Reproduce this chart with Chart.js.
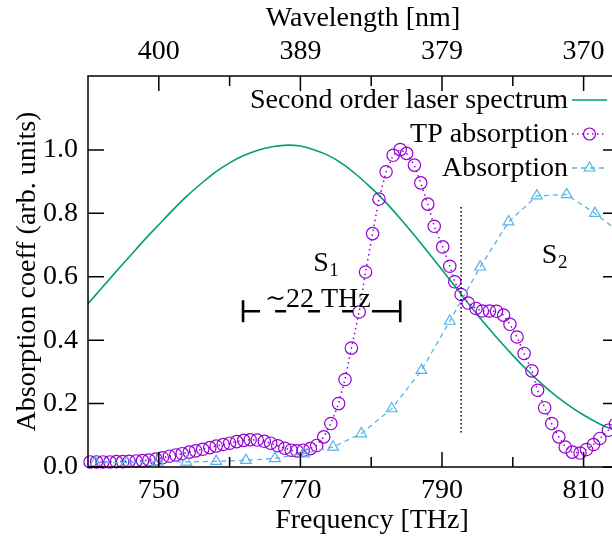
<!DOCTYPE html>
<html><head><meta charset="utf-8">
<script src="https://cdn.jsdelivr.net/npm/chart.js@4/dist/chart.umd.min.js"></script>
<style>
html,body{margin:0;padding:0;overflow:hidden;background:#fff;width:612px;height:537px}
#wrap{width:640px;height:537px;position:relative}
</style></head><body>
<div id="wrap"><canvas id="c" width="640" height="537"></canvas></div>
<script>
// ---------- data ----------
const seriesNames = ['Second order laser spectrum', 'TP absorption', 'Absorption'];
const axisTitles = {bottom: 'Frequency [THz]', top: 'Wavelength [nm]', left: 'Absorption coeff (arb. units)'};

const laserFreq = [740, 742, 744, 746, 748, 750, 752, 754, 756, 758, 760, 762, 764, 766, 768.3,
  770, 772, 774, 776, 778, 780, 782, 784, 786, 788, 790, 792, 794, 796, 798, 800, 802, 804, 806,
  808, 810, 812, 814, 816];
const laserValues = [0.515, 0.566, 0.617, 0.667, 0.717, 0.764, 0.811, 0.855, 0.894, 0.930, 0.959,
  0.982, 0.999, 1.010, 1.015, 1.012, 1.000, 0.982, 0.955, 0.920, 0.880, 0.836, 0.786, 0.733, 0.678,
  0.622, 0.565, 0.508, 0.453, 0.401, 0.352, 0.306, 0.264, 0.226, 0.193, 0.164, 0.139, 0.119, 0.101];

const tpFreq = [740.3, 741.2, 742.1, 743.1, 744.0, 744.9, 745.8, 746.8, 747.7, 748.6, 749.6, 750.5,
  751.5, 752.4, 753.3, 754.3, 755.2, 756.2, 757.2, 758.1, 759.1, 760.0, 761.0, 762.0, 762.9, 763.9,
  764.9, 765.8, 766.8, 767.8, 768.7, 769.5, 770.4, 771.4, 772.3, 773.3, 774.3, 775.4, 776.3, 777.2,
  778.3, 779.2, 780.2, 781.1, 782.1, 783.1, 784.1, 785.0, 786.1, 787.0, 788.0, 788.9, 790.1, 791.1,
  791.8, 792.7, 793.7, 794.8, 795.7, 796.7, 797.7, 798.7, 799.6, 800.6, 801.6, 802.7, 803.5, 804.5,
  805.5, 806.5, 807.4, 808.4, 809.5, 810.4, 811.4, 812.3, 813.5, 814.5];
const tpValues = [0.016, 0.016, 0.016, 0.016, 0.017, 0.017, 0.018, 0.019, 0.020, 0.022, 0.025, 0.029,
  0.034, 0.038, 0.042, 0.047, 0.051, 0.056, 0.061, 0.066, 0.071, 0.075, 0.080, 0.084, 0.086, 0.085,
  0.081, 0.075, 0.067, 0.059, 0.053, 0.051, 0.053, 0.058, 0.068, 0.095, 0.137, 0.200, 0.276, 0.375,
  0.489, 0.615, 0.736, 0.845, 0.931, 0.983, 1.001, 0.989, 0.952, 0.896, 0.829, 0.759, 0.694, 0.633,
  0.584, 0.544, 0.517, 0.500, 0.492, 0.492, 0.491, 0.479, 0.450, 0.410, 0.358, 0.303, 0.242, 0.187,
  0.137, 0.095, 0.063, 0.047, 0.044, 0.055, 0.071, 0.090, 0.116, 0.135];

const absFreq = [741.0, 745.5, 749.8, 753.9, 758.1, 762.3, 766.4, 770.5, 774.6, 778.6, 782.9, 787.1,
  791.1, 795.4, 799.4, 803.4, 807.6, 811.6, 815.7];
const absValues = [0.014, 0.014, 0.016, 0.016, 0.018, 0.021, 0.027, 0.042, 0.063, 0.105, 0.184, 0.305,
  0.460, 0.631, 0.773, 0.855, 0.859, 0.800, 0.730];

const freqTicks = [750, 760, 770, 780, 790, 800, 810];
const freqTickLabels = ['750', '', '770', '', '790', '', '810'];
const wavelengthTickLabels = ['400', '', '389', '', '379', '', '370'];
const yTicks = [0, 0.2, 0.4, 0.6, 0.8, 1.0];
const yTickLabels = ['0.0', '0.2', '0.4', '0.6', '0.8', '1.0'];

// annotation anchors (data units)
const bandwidthBar = {from: 761.9, to: 784.1, y: 0.491, label: '22 THz'};
const centerMarker = {x: 792.7, yFrom: 0.105, yTo: 0.82};
const regionLabels = [{x: 771.8, y: 0.617, sub: '1'}, {x: 804.1, y: 0.643, sub: '2'}];

// ---------- styling ----------
const FONT = '"Liberation Serif", "Times New Roman", serif';
const FS = 28;
const GREEN = '#009E73', PURPLE = '#9400D3', BLUE = '#56B4E9';

function pts(xs, ys) { return xs.map((x, i) => ({x, y: ys[i]})); }

function drawMarker(ctx, style, x, y, r, color) {
  ctx.save();
  ctx.setLineDash([]);
  ctx.strokeStyle = color; ctx.lineWidth = 1.2;
  ctx.beginPath();
  if (style === 'circle') {
    ctx.arc(x, y, r, 0, Math.PI * 2);
  } else {
    let a = 0;
    ctx.moveTo(x + Math.sin(a) * r, y - Math.cos(a) * r);
    a += 2 * Math.PI / 3; ctx.lineTo(x + Math.sin(a) * r, y - Math.cos(a) * r);
    a += 2 * Math.PI / 3; ctx.lineTo(x + Math.sin(a) * r, y - Math.cos(a) * r);
    ctx.closePath();
  }
  ctx.stroke();
  ctx.restore();
}

const decorPlugin = {
  id: 'decor',
  afterDatasetsDraw(chart) {
    const {ctx, chartArea: a, scales: {x, y}} = chart;
    ctx.save();
    ctx.strokeStyle = '#000';
    ctx.lineWidth = 1.5;
    ctx.setLineDash([]);
    // tick marks, drawn inward
    ctx.beginPath();
    freqTicks.forEach((v, i) => {
      const px = x.getPixelForValue(v);
      const len = freqTickLabels[i] ? 15 : 10;
      ctx.moveTo(px, a.bottom); ctx.lineTo(px, a.bottom - len);
      ctx.moveTo(px, a.top); ctx.lineTo(px, a.top + len);
    });
    yTicks.forEach(v => {
      const py = y.getPixelForValue(v);
      ctx.moveTo(a.left, py); ctx.lineTo(a.left + 16, py);
      ctx.moveTo(a.right, py); ctx.lineTo(a.right - 16, py);
    });
    ctx.stroke();
    ctx.strokeRect(a.left, a.top, a.right - a.left, a.bottom - a.top);

    // vertical dotted marker
    ctx.beginPath();
    ctx.setLineDash([1.5, 2.5]);
    ctx.lineWidth = 1.5;
    const mx = x.getPixelForValue(centerMarker.x);
    ctx.moveTo(mx, y.getPixelForValue(centerMarker.yTo));
    ctx.lineTo(mx, y.getPixelForValue(centerMarker.yFrom));
    ctx.stroke();
    ctx.setLineDash([]);

    // bandwidth bar
    const x0 = x.getPixelForValue(bandwidthBar.from);
    const x1 = x.getPixelForValue(bandwidthBar.to);
    const by = y.getPixelForValue(bandwidthBar.y);
    ctx.lineWidth = 2.6;
    ctx.beginPath();
    ctx.moveTo(x0, by - 11); ctx.lineTo(x0, by + 11);
    ctx.moveTo(x1, by - 11); ctx.lineTo(x1, by + 11);
    const L = x1 - x0;
    [[0, 0.108], [0.204, 0.274], [0.414, 0.49], [0.63, 0.70], [0.82, 1]].forEach(([s, e]) => {
      ctx.moveTo(x0 + s * L, by); ctx.lineTo(x0 + e * L, by);
    });
    ctx.stroke();

    // texts
    ctx.fillStyle = '#000';
    ctx.textBaseline = 'alphabetic';
    ctx.textAlign = 'left';
    const tx = x0 + 22, ty = by - 4;
    ctx.font = '25px "DejaVu Serif", serif';
    ctx.fillText('\u223C', tx, ty - 1);
    const tw = ctx.measureText('\u223C').width;
    ctx.font = FS + 'px ' + FONT;
    ctx.fillText(bandwidthBar.label, tx + tw, ty);

    regionLabels.forEach(r => {
      const px = x.getPixelForValue(r.x), py = y.getPixelForValue(r.y);
      ctx.font = FS + 'px ' + FONT;
      ctx.fillText('S', px, py);
      const w = ctx.measureText('S').width;
      ctx.font = '19px ' + FONT;
      ctx.fillText(r.sub, px + w + 0.5, py + 5);
    });

    // axis titles (horizontal)
    ctx.font = FS + 'px ' + FONT;
    ctx.textAlign = 'center';
    ctx.textBaseline = 'middle';
    ctx.fillText(axisTitles.bottom, 372, 521);
    ctx.fillText(axisTitles.top, 363, 19);

    // legend (text right, sample to its right)
    const styles = [
      {color: GREEN, dash: [], marker: null},
      {color: PURPLE, dash: [1.5, 3.5], marker: 'circle'},
      {color: BLUE, dash: [5, 4], marker: 'triangle'}
    ];
    const rowsY = [100, 134, 168];
    const textRight = 568, sx0 = 572, sx1 = 607;
    ctx.textBaseline = 'alphabetic';
    seriesNames.forEach((name, i) => {
      const ly = rowsY[i];
      ctx.font = FS + 'px ' + FONT;
      ctx.textAlign = 'right';
      ctx.fillStyle = '#000';
      ctx.fillText(name, textRight, ly + 8);
      ctx.beginPath();
      ctx.strokeStyle = styles[i].color;
      ctx.lineWidth = 1.5;
      ctx.setLineDash(styles[i].dash);
      ctx.moveTo(sx0, ly); ctx.lineTo(sx1, ly);
      ctx.stroke();
      ctx.setLineDash([]);
      if (styles[i].marker) drawMarker(ctx, styles[i].marker, (sx0 + sx1) / 2, ly, 6, styles[i].color);
    });
    ctx.restore();
  }
};

Chart.defaults.font.family = FONT;
Chart.defaults.font.size = FS;
Chart.defaults.color = '#000';

const tickFont = {family: FONT, size: FS, lineHeight: 1};

new Chart(document.getElementById('c'), {
  type: 'line',
  data: {
    datasets: [
      {label: seriesNames[0], data: pts(laserFreq, laserValues), borderColor: GREEN, borderWidth: 1.6,
        pointRadius: 0, cubicInterpolationMode: 'monotone', order: 3, fill: false},
      {label: seriesNames[1], data: pts(tpFreq, tpValues), borderColor: PURPLE, borderWidth: 1.5,
        borderDash: [1.5, 3.5], pointStyle: 'circle', pointRadius: 6.2, pointBorderWidth: 1.2,
        pointBorderColor: PURPLE, pointBackgroundColor: 'rgba(0,0,0,0)', order: 2, fill: false,
        clip: {left: 10, right: 0, top: 0, bottom: 10}},
      {label: seriesNames[2], data: pts(absFreq, absValues), borderColor: BLUE, borderWidth: 1.3,
        borderDash: [5, 4], pointStyle: 'triangle', pointRadius: 6.2, pointBorderWidth: 1.2,
        pointBorderColor: BLUE, pointBackgroundColor: 'rgba(0,0,0,0)', order: 1, fill: false,
        clip: {left: 10, right: 0, top: 0, bottom: 10}}
    ]
  },
  options: {
    responsive: false,
    animation: false,
    devicePixelRatio: 1,
    layout: {padding: {left: 0, right: 21, top: 0, bottom: 0}},
    plugins: {legend: {display: false}, tooltip: {enabled: false}},
    scales: {
      x: {
        type: 'linear', position: 'bottom', min: 740, max: 815,
        afterBuildTicks: s => { s.ticks = freqTicks.map(v => ({value: v})); },
        afterFit: s => { s.height = 70; },
        grid: {display: false, drawTicks: false},
        border: {display: false},
        ticks: {autoSkip: false, maxRotation: 0, padding: 10, font: tickFont,
          callback: (v, i) => freqTickLabels[i]}
      },
      x2: {
        type: 'linear', position: 'top', min: 740, max: 815,
        afterBuildTicks: s => { s.ticks = freqTicks.map(v => ({value: v})); },
        afterFit: s => { s.height = 76; },
        grid: {display: false, drawTicks: false},
        border: {display: false},
        ticks: {autoSkip: false, maxRotation: 0, padding: 10, font: tickFont,
          callback: (v, i) => wavelengthTickLabels[i]}
      },
      y: {
        type: 'linear', position: 'left', min: 0, max: 1.233,
        afterBuildTicks: s => { s.ticks = yTicks.map(v => ({value: v})); },
        afterFit: s => { s.width = 88; },
        grid: {display: false, drawTicks: false},
        border: {display: false},
        ticks: {autoSkip: false, padding: 10, font: tickFont, callback: (v, i) => yTickLabels[i]},
        title: {display: true, text: axisTitles.left, font: tickFont, padding: {top: 14, bottom: 0}}
      }
    }
  },
  plugins: [decorPlugin]
});
</script>
</body></html>
